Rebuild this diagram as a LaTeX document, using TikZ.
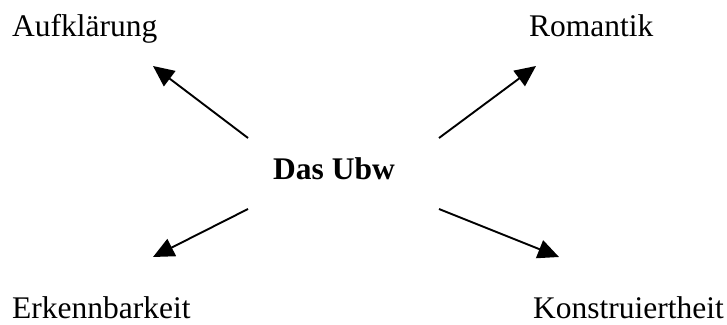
\documentclass[tikz,border=0pt]{standalone}
\usepackage{fontspec}
\setmainfont{Liberation Serif}
\usetikzlibrary{arrows.meta}
\begin{document}
\begin{tikzpicture}[x=1pt,y=1pt,
  lbl/.style={anchor=base west,inner sep=0pt,font=\fontsize{31.5}{36}\selectfont},
  arr/.style={line width=1.9pt,-{Triangle[length=21pt,width=19pt]}}]
\useasboundingbox (0,0) rectangle (727,324);
\node[lbl] (auf) at (12,287) {Aufklärung};
\node[lbl] (rom) at (529,287) {Romantik};
\node[lbl] (erk) at (12,6) {Erkennbarkeit};
\node[lbl] (kon) at (533,6) {Konstruiertheit};
\node[lbl,font=\fontsize{31.5}{36}\selectfont\bfseries] (ubw) at (273,144) {Das Ubw};
\coordinate (s1) at (248,186); \coordinate (t1) at (153,258);
\coordinate (s2) at (439,186); \coordinate (t2) at (536,258);
\coordinate (s3) at (248,115); \coordinate (t3) at (153,67);
\coordinate (s4) at (439,115); \coordinate (t4) at (559,67);
\draw[arr] (s1) -- (t1);
\draw[arr] (s2) -- (t2);
\draw[arr] (s3) -- (t3);
\draw[arr] (s4) -- (t4);
\end{tikzpicture}
\end{document}
